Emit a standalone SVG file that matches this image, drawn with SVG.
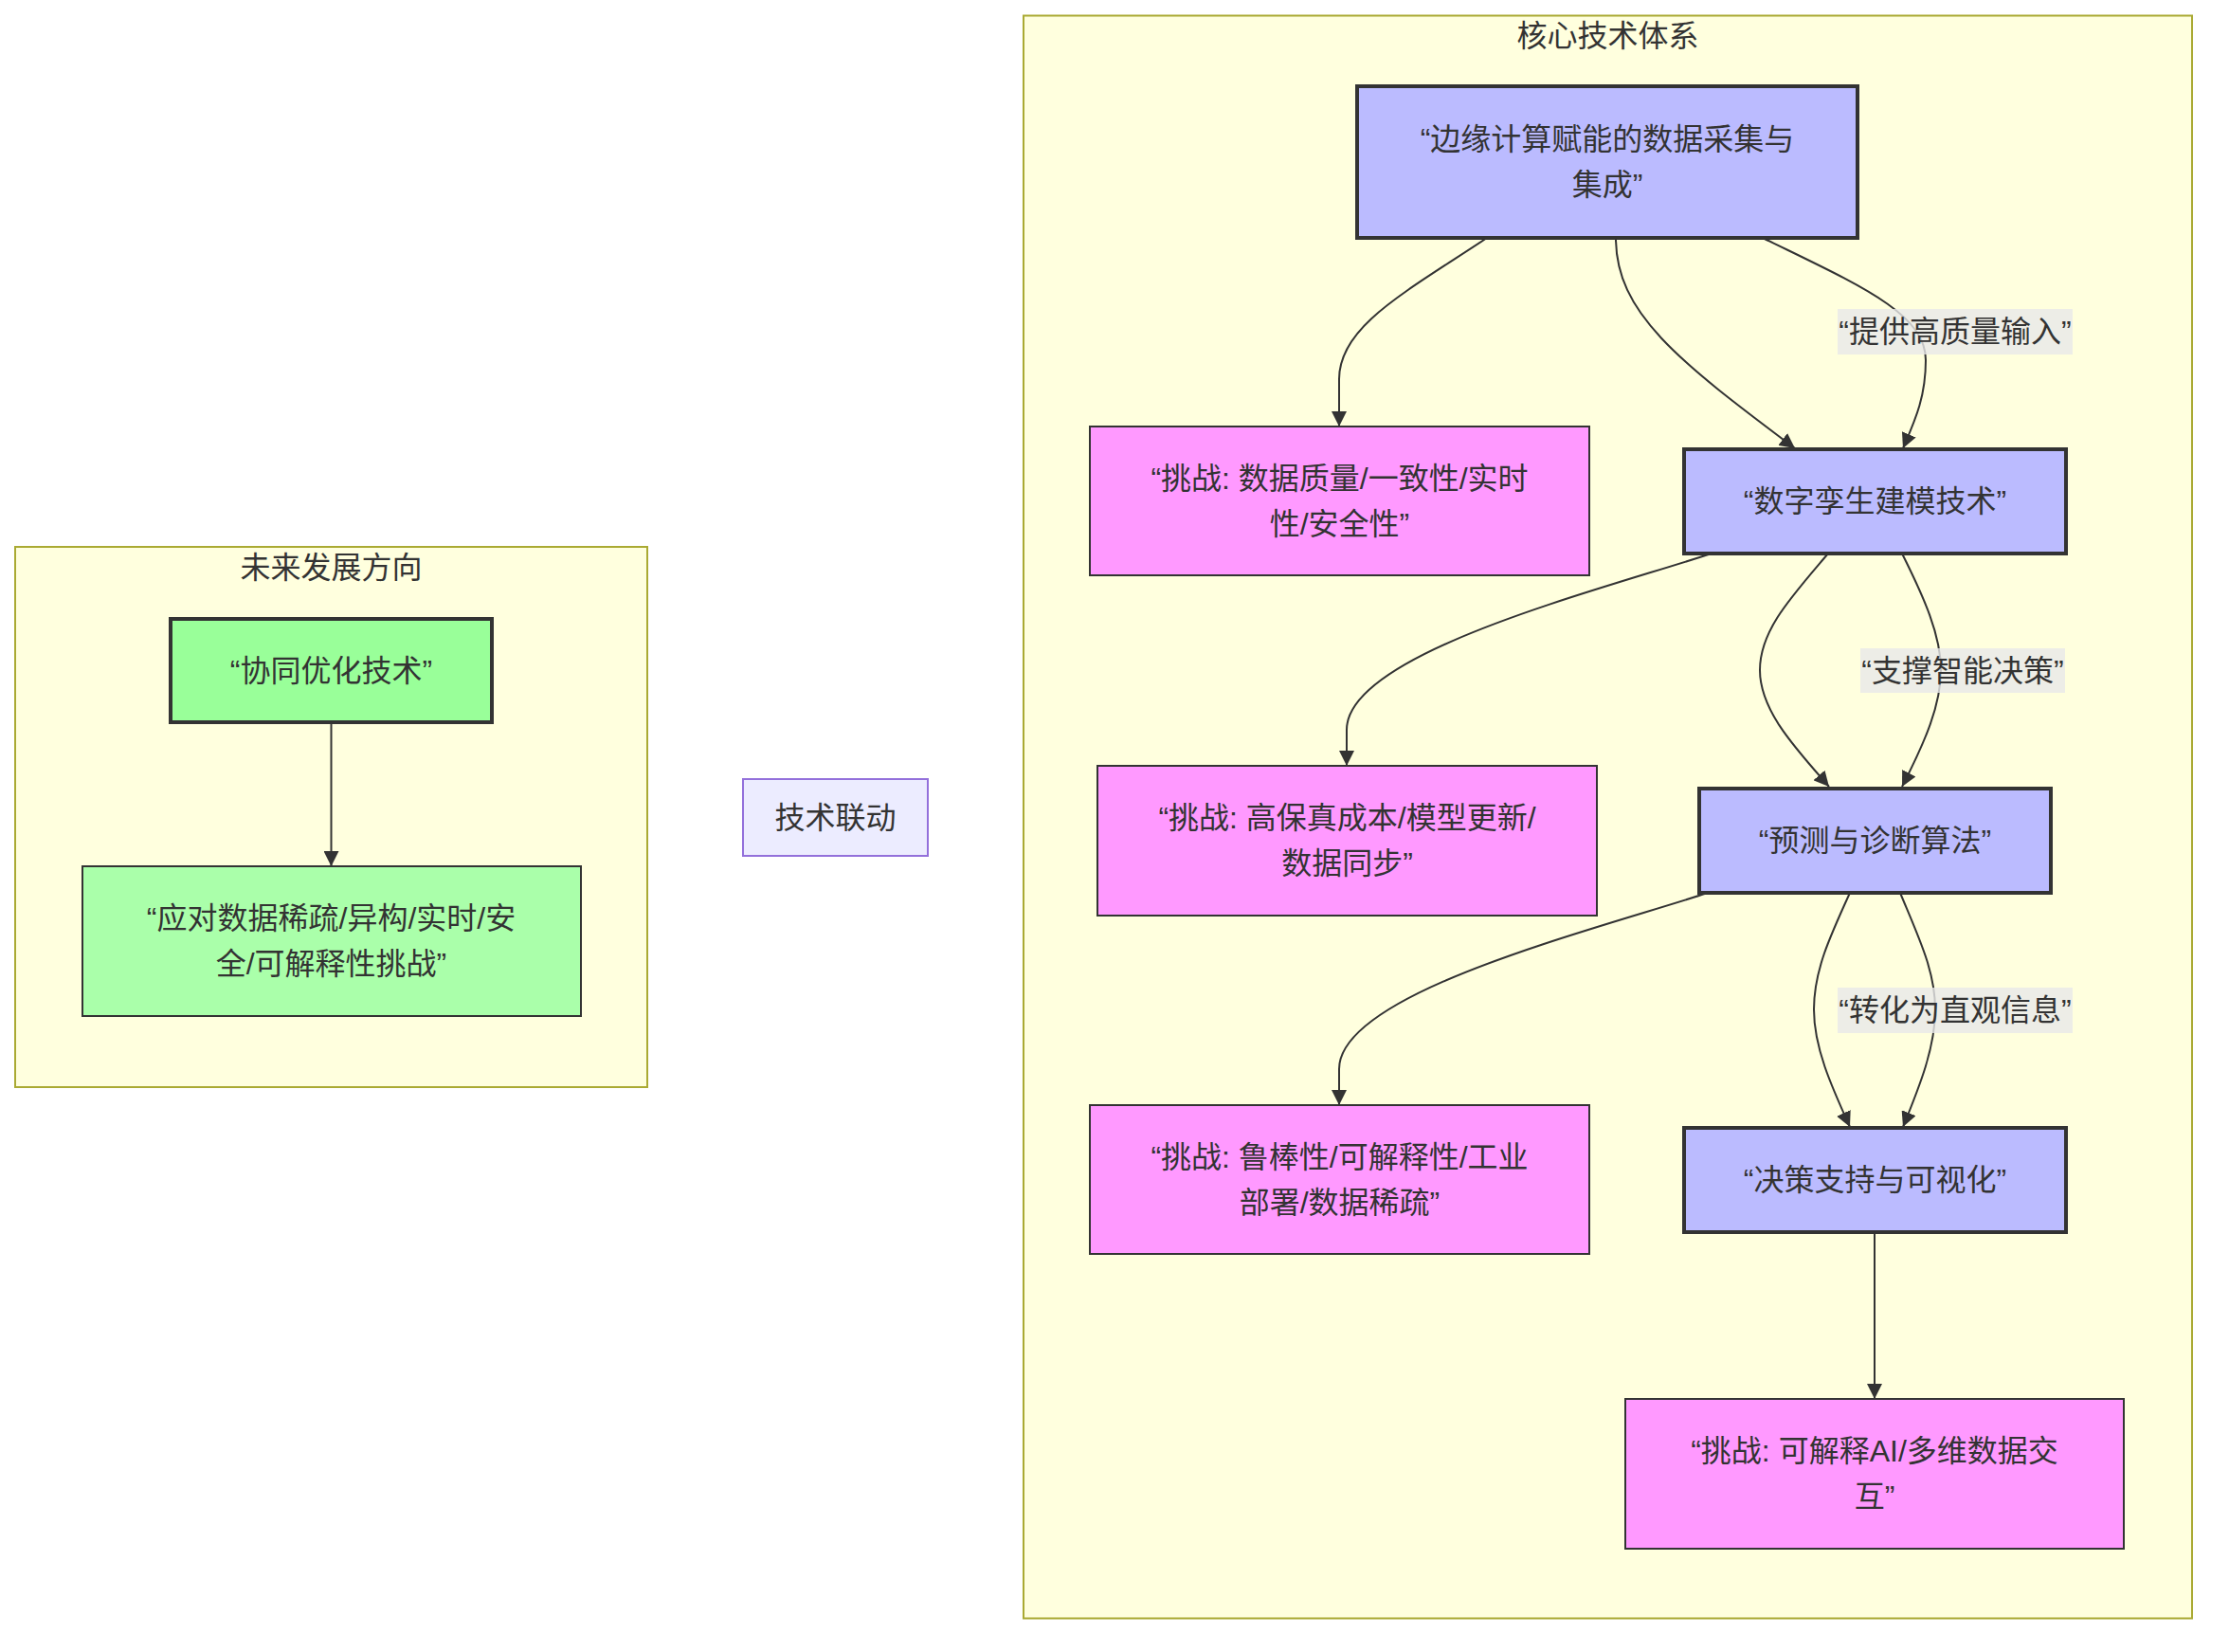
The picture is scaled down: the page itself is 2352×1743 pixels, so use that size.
<svg xmlns="http://www.w3.org/2000/svg" width="2352" height="1743" viewBox="0 0 2352 1743">
<style>
text{font-family:"Liberation Sans","Noto Sans CJK SC",sans-serif;font-size:32px;fill:#333;text-anchor:middle;dominant-baseline:central}
.cluster{fill:#ffffde;stroke:#aaaa33;stroke-width:2}
.core{fill:#bbbbff;stroke:#333;stroke-width:4}
.chal{fill:#ff99ff;stroke:#333;stroke-width:2}
.fut1{fill:#99ff99;stroke:#333;stroke-width:4}
.fut2{fill:#aaffaa;stroke:#333;stroke-width:2}
.plain{fill:#ececff;stroke:#9370db;stroke-width:2}
.edge{fill:none;stroke:#333;stroke-width:2;marker-end:url(#arrow)}
.lbl{fill:#e8e8e8;fill-opacity:0.8}
</style>
<defs>
<marker id="arrow" viewBox="0 0 10 10" refX="10" refY="5" markerWidth="16" markerHeight="16" markerUnits="userSpaceOnUse" orient="auto">
<path d="M0,0 L10,5 L0,10 z" fill="#333"/>
</marker>
</defs>
<rect width="2352" height="1743" fill="#ffffff"/>
<g id="cluster-core">
<rect class="cluster" x="1080" y="16.5" width="1233" height="1691"/>
<text x="1696.5" y="37.5">核心技术体系</text>
</g>
<g id="cluster-future">
<rect class="cluster" x="16" y="577" width="667" height="570"/>
<text x="349.5" y="599">未来发展方向</text>
</g>
<g id="edges">
<path class="edge" d="M1569,251 C1480,310 1413,345 1413,400 L1413,450"/>
<path class="edge" d="M1705,251 C1705,330 1770,380 1894,473"/>
<path class="edge" d="M1860,251 C1960,300 2032,330 2032,380 C2032,420 2020,445 2008,473"/>
<path class="edge" d="M1806,584 C1680,625 1421,690 1421,770 L1421,808"/>
<path class="edge" d="M1929,584 C1890,630 1857,665 1857,707 C1857,750 1895,790 1930,830"/>
<path class="edge" d="M2007,584 C2030,630 2048,670 2048,707 C2048,745 2030,785 2007,830"/>
<path class="edge" d="M1802,942 C1676,983 1413,1048 1413,1128 L1413,1166"/>
<path class="edge" d="M1952,942 C1930,990 1914,1025 1914,1065 C1914,1105 1932,1145 1952,1189"/>
<path class="edge" d="M2005,942 C2025,990 2042,1025 2042,1065 C2042,1105 2026,1145 2008,1189"/>
<path class="edge" d="M1978,1300 L1978,1476"/>
<path class="edge" d="M349.5,762 L349.5,914"/>
<g id="edge-labels">
<rect class="lbl" x="1939" y="326" width="248" height="48"/>
<text x="2063" y="350">“提供高质量输入”</text>
<rect class="lbl" x="1963" y="684" width="216" height="47"/>
<text x="2071" y="707.5">“支撑智能决策”</text>
<rect class="lbl" x="1939" y="1042" width="248" height="48"/>
<text x="2063" y="1066">“转化为直观信息”</text>
</g>
</g>
<g id="node-edge">
<rect class="core" x="1432" y="91" width="528" height="160"/>
<text x="1696" y="147">“边缘计算赋能的数据采集与</text>
<text x="1696" y="195">集成”</text>
</g>
<g id="node-challenge1">
<rect class="chal" x="1150" y="450" width="527" height="157"/>
<text x="1413.5" y="504.5">“挑战: 数据质量/一致性/实时</text>
<text x="1413.5" y="552.5">性/安全性”</text>
</g>
<g id="node-twin">
<rect class="core" x="1777" y="474" width="403" height="110"/>
<text x="1978.5" y="529">“数字孪生建模技术”</text>
</g>
<g id="node-challenge2">
<rect class="chal" x="1158" y="808" width="527" height="158"/>
<text x="1421.5" y="863">“挑战: 高保真成本/模型更新/</text>
<text x="1421.5" y="911">数据同步”</text>
</g>
<g id="node-predict">
<rect class="core" x="1793" y="832" width="371" height="110"/>
<text x="1978.5" y="887">“预测与诊断算法”</text>
</g>
<g id="node-challenge3">
<rect class="chal" x="1150" y="1166" width="527" height="157"/>
<text x="1413.5" y="1220.5">“挑战: 鲁棒性/可解释性/工业</text>
<text x="1413.5" y="1268.5">部署/数据稀疏”</text>
</g>
<g id="node-decision">
<rect class="core" x="1777" y="1190" width="403" height="110"/>
<text x="1978.5" y="1245">“决策支持与可视化”</text>
</g>
<g id="node-challenge4">
<rect class="chal" x="1715" y="1476" width="526" height="158"/>
<text x="1978" y="1531">“挑战: 可解释AI/多维数据交</text>
<text x="1978" y="1579">互”</text>
</g>
<g id="node-cooptimize">
<rect class="fut1" x="180" y="653" width="339" height="109"/>
<text x="349.5" y="707.5">“协同优化技术”</text>
</g>
<g id="node-future-challenge">
<rect class="fut2" x="87" y="914" width="526" height="158"/>
<text x="349.5" y="969">“应对数据稀疏/异构/实时/安</text>
<text x="349.5" y="1017">全/可解释性挑战”</text>
</g>
<g id="node-linkage">
<rect class="plain" x="784" y="822" width="195" height="81"/>
<text x="881.5" y="862.5">技术联动</text>
</g>
</svg>
